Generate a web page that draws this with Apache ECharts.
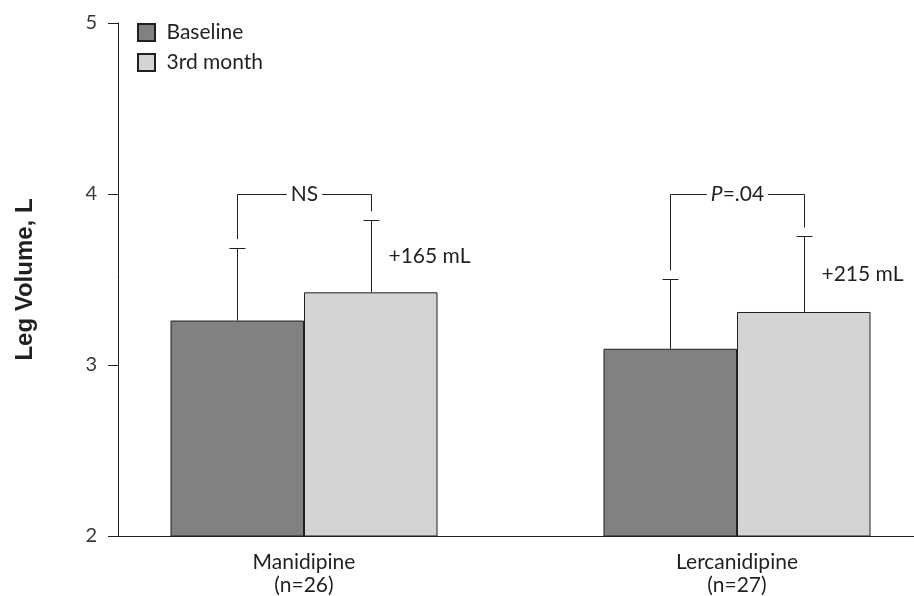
<!DOCTYPE html>
<html>
<head>
<meta charset="utf-8">
<script src="https://cdn.jsdelivr.net/npm/echarts@6/dist/echarts.min.js"></script>
<style>
  html, body { margin: 0; padding: 0; background: #fff; }
  #chart { width: 914px; height: 596px; }
</style>
</head>
<body>
<div id="chart"></div>
<script>
// Groups and sample sizes
const groups = ['Manidipine', 'Lercanidipine'];
const sampleSizes = ['(n=26)', '(n=27)'];
const groupPos = [1, 2];

// Mean leg volume (L) and top of the SD whisker
const baseline = [3.26, 3.095];
const month3 = [3.425, 3.31];
const baselineErr = [3.686, 3.503];
const month3Err = [3.848, 3.754];

// Between-visit comparison
const pLabels = ['NS', 'P=.04'];
const bracketLevel = [4.0, 4.0];

const yTicks = [2, 3, 4, 5];

const FONT = 'Lato';
const TITLE_FONT = '"Liberation Sans", Arial, sans-serif';
const INK = '#231f20';
const BAR_W = 133.5;

const chart = echarts.init(document.getElementById('chart'), null, { renderer: 'canvas' });

function whiskerItem(sign, withDelta) {
  return function (params, api) {
    const i = params.dataIndex;
    const x = api.value(0);
    const base = api.coord([x, api.value(1)]);
    const top = api.coord([x, api.value(2)]);
    const px = Math.round(base[0] + sign * BAR_W / 2) + 0.5;
    const ty = Math.round(top[1]) + 0.5;
    const children = [
      { type: 'line', shape: { x1: px, y1: base[1], x2: px, y2: ty },
        style: { stroke: INK, lineWidth: 1 } },
      { type: 'line', shape: { x1: px - 8, y1: ty, x2: px + 8, y2: ty },
        style: { stroke: INK, lineWidth: 1 } }
    ];
    if (withDelta) {
      const ml = Math.round((month3[i] - baseline[i]) * 1000);
      children.push({
        type: 'text',
        style: {
          x: px + 17, y: (base[1] + top[1]) / 2,
          text: '+' + ml + ' mL',
          font: '21px ' + FONT, fill: INK,
          textAlign: 'left', textVerticalAlign: 'middle'
        }
      });
    }
    return { type: 'group', children };
  };
}

function bracketItem(params, api) {
  const i = params.dataIndex;
  const x = api.value(0);
  const gap = 0.05;
  const l = api.coord([x, api.value(1) + gap]);
  const r = api.coord([x, api.value(2) + gap]);
  const t = api.coord([x, api.value(3)]);
  const lx = Math.round(l[0] - BAR_W / 2) + 0.5;
  const rx = Math.round(r[0] + BAR_W / 2) + 0.5;
  const ty = Math.round(t[1]) + 0.5;
  const label = pLabels[i];
  const rich = label.startsWith('P')
    ? '{i|P}{n|' + label.slice(1) + '}'
    : '{n|' + label + '}';
  return {
    type: 'group',
    children: [
      { type: 'polyline',
        shape: { points: [[lx, l[1]], [lx, ty], [rx, ty], [rx, r[1]]] },
        style: { stroke: INK, lineWidth: 1, fill: null } },
      { type: 'text',
        style: {
          x: (lx + rx) / 2, y: ty,
          text: rich,
          textAlign: 'center', textVerticalAlign: 'middle',
          backgroundColor: '#fff', padding: [0, 4],
          rich: {
            i: { font: 'italic 21px ' + FONT, fill: INK },
            n: { font: '21px ' + FONT, fill: INK }
          }
        } }
    ]
  };
}

chart.setOption({
  animation: false,
  backgroundColor: '#fff',
  textStyle: { fontFamily: FONT, color: INK },
  grid: {
    left: 118, right: 0, top: 23, bottom: 60,
    containLabel: false, outerBoundsMode: 'none'
  },
  legend: {
    left: 137, top: 22, padding: 0,
    orient: 'vertical',
    // square swatch inside a wider slot, leaving room before the text
    icon: 'path://M0,0H16V16H0Z',
    itemWidth: 30, itemHeight: 17, itemGap: 9,
    textStyle: { fontSize: 21, color: INK, fontFamily: FONT },
    data: ['Baseline', '3rd month']
  },
  xAxis: {
    type: 'value',
    min: 1 - 186 / 433,
    max: 1 - 186 / 433 + 796 / 433,
    axisLine: { show: true, lineStyle: { color: INK, width: 1 } },
    axisTick: { show: false },
    splitLine: { show: false },
    axisLabel: {
      show: true,
      customValues: groupPos,
      margin: 15,
      fontSize: 21, lineHeight: 23, color: INK, fontFamily: FONT,
      formatter: function (v) {
        const k = groupPos.indexOf(Math.round(v));
        return k < 0 ? '' : groups[k] + '\n' + sampleSizes[k];
      }
    }
  },
  yAxis: {
    type: 'value',
    min: yTicks[0], max: yTicks[yTicks.length - 1], interval: 1,
    name: 'Leg Volume, L',
    nameLocation: 'middle',
    nameGap: 81,
    nameTextStyle: { fontSize: 24, fontWeight: 'bold', color: INK, fontFamily: TITLE_FONT },
    axisLine: { show: true, lineStyle: { color: INK, width: 1 } },
    axisTick: { show: true, inside: false, length: 10, lineStyle: { color: INK } },
    splitLine: { show: false },
    axisLabel: { fontSize: 20, color: '#3a3738', margin: 21, fontFamily: FONT }
  },
  series: [
    {
      name: 'Baseline', type: 'bar',
      barWidth: BAR_W, barGap: '0%',
      itemStyle: { color: '#808183', borderColor: INK, borderWidth: 1 },
      data: groupPos.map((x, i) => [x, baseline[i]]),
      z: 2
    },
    {
      name: '3rd month', type: 'bar',
      barWidth: BAR_W, barGap: '0%',
      itemStyle: { color: '#d3d4d6', borderColor: INK, borderWidth: 1 },
      data: groupPos.map((x, i) => [x, month3[i]]),
      z: 2
    },
    {
      type: 'custom', silent: true, z: 3,
      renderItem: whiskerItem(-1, false),
      data: groupPos.map((x, i) => [x, baseline[i], baselineErr[i]])
    },
    {
      type: 'custom', silent: true, z: 3,
      renderItem: whiskerItem(1, true),
      data: groupPos.map((x, i) => [x, month3[i], month3Err[i]])
    },
    {
      type: 'custom', silent: true, z: 3,
      renderItem: bracketItem,
      data: groupPos.map((x, i) => [x, baselineErr[i], month3Err[i], bracketLevel[i]])
    }
  ]
});
</script>
</body>
</html>
